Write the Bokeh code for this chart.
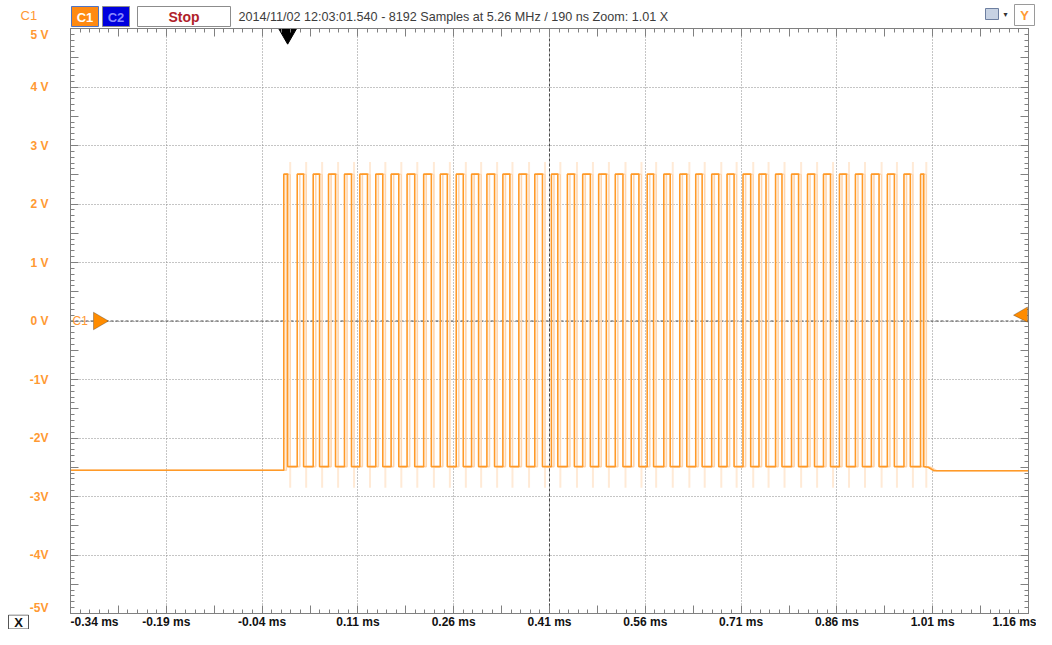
import json
import numpy as np
from bokeh.plotting import figure
from bokeh.layouts import column, row
from bokeh.models import (Range1d, FixedTicker, CustomJSTickFormatter, LinearAxis,
                          Span, Label, PolyAnnotation)
from bokeh.core.properties import value
from bokeh.embed import file_html
from bokeh.resources import INLINE

# ---------------- data ----------------
time_start_ms = -0.34
time_end_ms = 1.16
x_tick_ms = [-0.34, -0.19, -0.04, 0.11, 0.26, 0.41, 0.56, 0.71, 0.86, 1.01, 1.16]
x_tick_labels = ["-0.34 ms", "-0.19 ms", "-0.04 ms", "0.11 ms", "0.26 ms", "0.41 ms",
                 "0.56 ms", "0.71 ms", "0.86 ms", "1.01 ms", "1.16 ms"]
y_tick_v = [-5, -4, -3, -2, -1, 0, 1, 2, 3, 4, 5]
y_tick_labels = ["-5V", "-4V", "-3V", "-2V", "-1V", "0 V", "1 V", "2 V", "3 V", "4 V", "5 V"]

rise_ms = [-0.006, 0.015, 0.040, 0.064, 0.089, 0.113, 0.138, 0.162, 0.187, 0.213,
           0.239, 0.264, 0.288, 0.312, 0.337, 0.362, 0.387, 0.413, 0.438, 0.462,
           0.487, 0.513, 0.538, 0.563, 0.589, 0.614, 0.639, 0.664, 0.688, 0.713,
           0.738, 0.764, 0.789, 0.814, 0.839, 0.864, 0.889, 0.914, 0.939, 0.965,
           0.991]
fall_ms = [0.000, 0.025, 0.050, 0.075, 0.100, 0.125, 0.149, 0.174, 0.199, 0.225,
           0.250, 0.275, 0.299, 0.324, 0.348, 0.374, 0.399, 0.423, 0.449, 0.474,
           0.499, 0.525, 0.550, 0.573, 0.599, 0.625, 0.649, 0.675, 0.699, 0.725,
           0.749, 0.774, 0.800, 0.825, 0.850, 0.875, 0.900, 0.926, 0.950, 0.975,
           0.996]
high_v = 2.51
low_v = -2.49
idle_v = -2.55
tail_ms = [1.003, 1.012]
tail_v = [-2.50, -2.56]
idle_end_v = -2.56
ghost_top_v = 2.72
ghost_bottom_v = -2.85
trigger_ms = 0.0
trigger_level_v = 0.10
channel_offset_v = 0.0
channel_name = "C1"
header_text = "2014/11/02 12:03:01.540 - 8192 Samples at 5.26 MHz / 190 ns Zoom: 1.01 X"

# ---------------- layout constants ----------------
W = 1036
HEADER_H = 27
MAIN_H = 587
FOOT_H = 15
FL = 70            # frame left (px)
FR = 8             # right border (px)
FW = W - FL - FR

ORANGE = "#FF9A28"
AXIS_GRAY = "#808080"
FONT = "Liberation Sans"

# ---------------- main plot ----------------
p = figure(width=W, height=MAIN_H, x_range=Range1d(time_start_ms, time_end_ms),
           y_range=Range1d(y_tick_v[0], y_tick_v[-1]),
           output_backend="svg", toolbar_location=None,
           min_border_left=FL, min_border_right=FR, min_border_top=1, min_border_bottom=1,
           x_axis_location=None, y_axis_location=None)
p.background_fill_color = "white"
p.border_fill_color = "white"
p.outline_line_color = AXIS_GRAY
p.frame_align = False

x_half = sorted(set([round(v, 4) for v in x_tick_ms] +
                    [round((a + b) / 2, 4) for a, b in zip(x_tick_ms[:-1], x_tick_ms[1:])]))
x_minor = list(np.round(np.linspace(x_tick_ms[0], x_tick_ms[-1], 101), 4))
y_half = sorted(set([float(v) for v in y_tick_v] +
                    [(a + b) / 2 for a, b in zip(y_tick_v[:-1], y_tick_v[1:])]))
y_minor = list(np.round(np.linspace(y_tick_v[0], y_tick_v[-1], 101), 3))

xmap = {f"{v:.3f}": lab for v, lab in zip(x_tick_ms, x_tick_labels)}
ymap = {f"{float(v):.2f}": lab for v, lab in zip(y_tick_v, y_tick_labels)}
x_fmt = CustomJSTickFormatter(code="const m = %s; const k = tick.toFixed(3); return (k in m) ? m[k] : '';" % json.dumps(xmap))
y_fmt = CustomJSTickFormatter(code="const m = %s; const k = tick.toFixed(2); return (k in m) ? m[k] : '';" % json.dumps(ymap))

def style_axis(ax, labels=False):
    ax.axis_line_color = AXIS_GRAY
    ax.major_tick_line_color = AXIS_GRAY
    ax.minor_tick_line_color = AXIS_GRAY
    ax.major_tick_in = 8
    ax.major_tick_out = 0
    ax.minor_tick_in = 4
    ax.minor_tick_out = 0
    if not labels:
        ax.major_label_standoff = 0
        ax.major_label_text_font_size = "1px"
        ax.major_label_text_color = None

for side in ("below", "above"):
    ax = LinearAxis(ticker=FixedTicker(ticks=x_half, minor_ticks=x_minor),
                    formatter=CustomJSTickFormatter(code="return '';"))
    style_axis(ax)
    p.add_layout(ax, side)

ly = LinearAxis(ticker=FixedTicker(ticks=y_half, minor_ticks=y_minor), formatter=y_fmt)
style_axis(ly, labels=True)
ly.major_label_text_font = FONT
ly.major_label_text_font_size = "12px"
ly.major_label_text_font_style = "bold"
ly.major_label_text_color = "#FF9933"
ly.major_label_standoff = 22
p.add_layout(ly, "left")

ry = LinearAxis(ticker=FixedTicker(ticks=y_half, minor_ticks=y_minor),
                formatter=CustomJSTickFormatter(code="return '';"))
style_axis(ry)
p.add_layout(ry, "right")

p.xgrid.ticker = FixedTicker(ticks=x_tick_ms)
p.ygrid.ticker = FixedTicker(ticks=y_tick_v)
for g in (p.xgrid, p.ygrid):
    g.grid_line_color = "#8a8a8a"
    g.grid_line_dash = "1 2"
    g.grid_line_width = 1

center_t = x_tick_ms[len(x_tick_ms) // 2]
p.add_layout(Span(location=channel_offset_v, dimension="width", line_color="#4a4a4a",
                  line_dash="3 2", line_width=1, level="underlay"))
p.add_layout(Span(location=center_t, dimension="height", line_color="#4a4a4a",
                  line_dash="3 2", line_width=1, level="underlay"))

def build(shift):
    xs = [time_start_ms, rise_ms[0] + shift]
    ys = [idle_v, idle_v]
    for i, (r, f) in enumerate(zip(rise_ms, fall_ms)):
        if i > 0:
            xs.append(r + shift)
            ys.append(low_v)
        xs += [r + shift, f + shift, f + shift]
        ys += [high_v, high_v, low_v]
    xs += [t + shift for t in tail_ms] + [time_end_ms]
    ys += list(tail_v) + [idle_end_v]
    return xs, ys

gx, gy = build(0.004)
p.line(gx, gy, line_color="#FFD6AE", line_width=1.6)
sp_x = [f + 0.004 for f in fall_ms]
p.segment(x0=sp_x, y0=[high_v] * len(sp_x), x1=sp_x, y1=[ghost_top_v] * len(sp_x),
          line_color="#FFEAD6", line_width=2)
p.segment(x0=sp_x, y0=[low_v] * len(sp_x), x1=sp_x, y1=[ghost_bottom_v] * len(sp_x),
          line_color="#FFEAD6", line_width=2)
mx, my = build(0.0)
p.line(mx, my, line_color=ORANGE, line_width=1.6)

p.scatter(x=[trigger_ms], y=[y_tick_v[-1] - 0.09], marker="inverted_triangle", size=18,
          fill_color="black", line_color="black")
p.add_layout(PolyAnnotation(xs=[23, 23, 38],
                            ys=[channel_offset_v + 0.15, channel_offset_v - 0.15, channel_offset_v],
                            xs_units="screen", ys_units="data",
                            fill_color="#FF8C00", fill_alpha=1, line_color="#222222", line_width=1))
p.add_layout(PolyAnnotation(xs=[FW - 1, FW - 1, FW - 15],
                            ys=[trigger_level_v + 0.14, trigger_level_v - 0.12, trigger_level_v],
                            xs_units="screen", ys_units="data",
                            fill_color="#FF8C00", fill_alpha=1, line_color="#222222", line_width=1))
p.add_layout(Label(x=2, y=channel_offset_v, x_units="screen", y_units="data", text=channel_name,
                   text_color="#FF9933", text_font=FONT, text_font_size="12px",
                   text_baseline="middle", text_align="left"))

# ---------------- header strip ----------------
hd = figure(width=W, height=HEADER_H, x_range=Range1d(0, W), y_range=Range1d(HEADER_H, 0),
            output_backend="svg", toolbar_location=None, min_border=0,
            x_axis_location=None, y_axis_location=None)
hd.frame_align = False
hd.outline_line_color = None
hd.xgrid.visible = False
hd.ygrid.visible = False
hd.background_fill_color = "white"

hd.quad(left=[71, 102, 137, 985, 1014], right=[98, 129, 230, 998, 1034],
        top=[6, 6, 6, 8, 4], bottom=[26, 26, 26, 19, 25],
        fill_color=["#FF8A12", "#0000DD", "white", "#c7d2e3", "white"],
        line_color=["#4f74c4", "#8c8c8c", "#8c8c8c", "#6d7fa0", "#9a9a9a"], line_width=1)
hd.text(x=[20], y=[15], text=[channel_name], text_color="#FF9933", text_font=value(FONT),
        text_font_size="13px", text_baseline="middle", text_align="left")
hd.text(x=[84.5, 115.5], y=[16.5, 16.5], text=["C1", "C2"], text_color=["white", "#8a8aff"],
        text_font=value(FONT), text_font_size="13px", text_font_style="bold",
        text_baseline="middle", text_align="center")
hd.text(x=[183.5], y=[16.5], text=["Stop"], text_color="#B01E2A", text_font=value(FONT),
        text_font_size="14px", text_font_style="bold", text_baseline="middle", text_align="center")
hd.text(x=[238], y=[16], text=[header_text], text_color="#3c3c3c", text_font=value(FONT),
        text_font_size="12.6px", text_baseline="middle", text_align="left")
hd.text(x=[1005], y=[14], text=["\u25be"], text_color="#333333", text_font=value("DejaVu Sans"),
        text_font_size="8px", text_baseline="middle", text_align="center")
hd.text(x=[1024], y=[15], text=["Y"], text_color="#FF9933", text_font=value(FONT),
        text_font_size="13px", text_font_style="bold", text_baseline="middle", text_align="center")

# ---------------- footer: X box + time labels ----------------
xb = figure(width=FL, height=FOOT_H, x_range=Range1d(0, FL), y_range=Range1d(FOOT_H, 0),
            output_backend="svg", toolbar_location=None, min_border=0,
            x_axis_location=None, y_axis_location=None)
xb.frame_align = False
xb.outline_line_color = None
xb.xgrid.visible = False
xb.ygrid.visible = False
xb.quad(left=[8], right=[28], top=[0.5], bottom=[14.5], fill_color="white", line_color="#555555")
xb.text(x=[18], y=[8], text=["X"], text_color="#111111", text_font=value(FONT),
        text_font_size="13px", text_font_style="bold", text_baseline="middle", text_align="center")

lf = figure(width=W - FL, height=FOOT_H, x_range=p.x_range, y_range=Range1d(0, 1),
            output_backend="svg", toolbar_location=None,
            min_border_left=0, min_border_right=FR, min_border_top=0, min_border_bottom=FOOT_H - 1,
            x_axis_location=None, y_axis_location=None)
lf.frame_align = False
lf.outline_line_color = None
lf.xgrid.visible = False
lf.ygrid.visible = False
bx = LinearAxis(ticker=FixedTicker(ticks=x_tick_ms), formatter=x_fmt)
bx.axis_line_color = None
bx.major_tick_line_color = None
bx.minor_tick_line_color = None
bx.major_tick_in = 0
bx.major_tick_out = 0
bx.major_label_standoff = 0
bx.major_label_text_font = FONT
bx.major_label_text_font_size = "12px"
bx.major_label_text_font_style = "bold"
bx.major_label_text_color = "#111111"
lf.add_layout(bx, "below")

layout = column(hd, p, row(xb, lf, spacing=0), spacing=0)
open("out.html", "w").write(file_html(layout, INLINE))
